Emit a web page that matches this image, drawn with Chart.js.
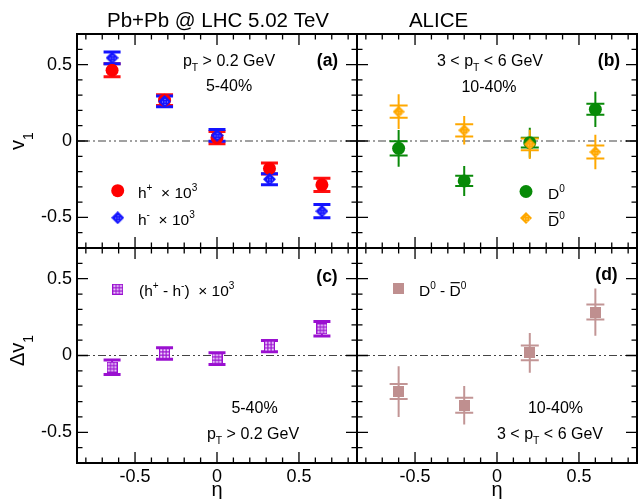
<!DOCTYPE html>
<html>
<head>
<meta charset="utf-8">
<script src="https://cdn.jsdelivr.net/npm/chart.js@4.4.0/dist/chart.umd.min.js"></script>
<style>
  html, body { margin: 0; padding: 0; background: #fff; }
  #wrap { position: relative; width: 638px; height: 499px; }
  #wrap canvas { position: absolute; left: 0; top: 0; }
</style>
</head>
<body>
<div id="wrap">
  <canvas id="pa" width="638" height="499"></canvas>
  <canvas id="pb" width="638" height="499"></canvas>
  <canvas id="pc" width="638" height="499"></canvas>
  <canvas id="pd" width="638" height="499"></canvas>
</div>
<script>
// eta positions
const etaH = [-0.64, -0.32, 0, 0.32, 0.64];
const etaD = [-0.6, -0.2, 0.2, 0.6];

// (a) charged hadrons, v1 x 10^3
const v1HPlus = [0.463, 0.267, 0.022, -0.180, -0.287];
const errHPlus = [0.043, 0.035, 0.040, 0.036, 0.043];
const v1HMinus = [0.544, 0.259, 0.037, -0.250, -0.459];
const errHMinus = [0.039, 0.035, 0.038, 0.036, 0.043];

// (b) D mesons
const v1D0 = [-0.048, -0.261, -0.011, 0.207];
const statD0 = [0.120, 0.098, 0.098, 0.116];
const systD0 = [0.047, 0.033, 0.032, 0.036];
const v1D0bar = [0.192, 0.070, -0.022, -0.072];
const statD0bar = [0.114, 0.093, 0.095, 0.113];
const systD0bar = [0.040, 0.040, 0.038, 0.043];

// (c) h+ - h-
const dv1H = [-0.076, 0.013, -0.020, 0.061, 0.174];
const errDv1H = [0.047, 0.037, 0.038, 0.037, 0.047];

// (d) D0 - D0bar
const dv1D = [-0.235, -0.324, 0.017, 0.283];
const statDv1D = [0.165, 0.125, 0.130, 0.154];
const systDv1D = [0.049, 0.049, 0.048, 0.049];

const xTicks = [-0.5, 0, 0.5];
const yTicks = [-0.5, 0, 0.5];

const FONT = "'Liberation Sans', Arial, Helvetica, sans-serif";
const W = 638, H = 499;
const L = 77, M = 357, R = 637, T = 34, MID = 248, B = 463;

function marker(size, paint) {
  const c = document.createElement('canvas');
  c.width = size; c.height = size;
  paint(c.getContext('2d'), size);
  return c;
}
function dottedDiamond(size, fill, dot) {
  return marker(size, (g, s) => {
    g.beginPath();
    g.moveTo(s / 2, 0); g.lineTo(s, s / 2); g.lineTo(s / 2, s); g.lineTo(0, s / 2);
    g.closePath();
    g.fillStyle = fill; g.fill();
    g.fillStyle = dot;
    for (let i = 1.5; i < s; i += 2.5)
      for (let j = 1.5; j < s; j += 2.5)
        if (Math.abs(i - s / 2) + Math.abs(j - s / 2) < s / 2 - 2) g.fillRect(i, j, 1, 1);
  });
}
const blueDiamond = dottedDiamond(13, '#1414ff', '#a8a8ff');
const orangeDiamond = dottedDiamond(12, '#ffa800', '#ffd78a');
const purpleSquare = marker(11, (g, s) => {
  g.fillStyle = '#f3ddff'; g.fillRect(0, 0, s, s);
  g.strokeStyle = '#9a10d0'; g.lineWidth = 1.2;
  g.beginPath();
  [0.6, 3.9, 7.1, 10.4].forEach(p => { g.moveTo(p, 0); g.lineTo(p, s); g.moveTo(0, p); g.lineTo(s, p); });
  g.stroke();
});
const rosySquare = marker(11, (g, s) => { g.fillStyle = '#bf8f8f'; g.fillRect(0, 0, s, s); });

// text with sub/superscripts and overline
function rich(ctx, parts, x, y, size, align, bold) {
  const f = s => (bold ? 'bold ' : '') + s + 'px ' + FONT;
  let w = 0;
  const items = parts.map(p => {
    const [t, m] = Array.isArray(p) ? p : [p, ''];
    const s = (m === 'sup' || m === 'sub') ? size * 0.65 : size;
    ctx.font = f(s);
    const it = { t, m, s, x: w, w: ctx.measureText(t).width };
    w += it.w;
    return it;
  });
  const x0 = align === 'center' ? x - w / 2 : align === 'right' ? x - w : x;
  ctx.textAlign = 'left';
  ctx.textBaseline = 'alphabetic';
  ctx.fillStyle = '#000';
  items.forEach(it => {
    ctx.font = f(it.s);
    let dy = 0;
    if (it.m === 'sup') dy = -size * 0.45;
    if (it.m === 'sub') dy = size * 0.32;
    ctx.fillText(it.t, x0 + it.x, y + dy);
    if (it.m === 'bar') {
      ctx.save();
      ctx.strokeStyle = '#000'; ctx.lineWidth = 1.2;
      ctx.beginPath();
      ctx.moveTo(x0 + it.x + 1, y - size * 0.86);
      ctx.lineTo(x0 + it.x + it.w - 1, y - size * 0.86);
      ctx.stroke();
      ctx.restore();
    }
  });
}

function drawMarker(ctx, ds, x, y) {
  if (ds.pointStyle === 'circle') {
    ctx.fillStyle = ds.backgroundColor;
    ctx.beginPath(); ctx.arc(x, y, ds.pointRadius, 0, Math.PI * 2); ctx.fill();
  } else {
    const im = ds.pointStyle;
    ctx.drawImage(im, x - im.width / 2, y - im.height / 2);
  }
}

const panelPlugin = {
  id: 'panel',
  beforeDatasetsDraw(chart) {
    const { ctx, chartArea: a, scales: { y } } = chart;
    ctx.save();
    // zero line
    ctx.strokeStyle = '#444';
    ctx.lineWidth = 1.2;
    ctx.setLineDash([8, 3, 2, 3, 2, 3]);
    const y0 = y.getPixelForValue(0);
    ctx.beginPath(); ctx.moveTo(a.left, y0); ctx.lineTo(a.right, y0); ctx.stroke();
    ctx.setLineDash([]);
    // error bars
    chart.data.datasets.forEach((ds, di) => {
      const meta = chart.getDatasetMeta(di);
      meta.data.forEach((pt, i) => {
        const v = ds.data[i].y;
        ctx.strokeStyle = ds.barColor;
        if (ds.err) {
          const yt = y.getPixelForValue(v + ds.err[i]), yb = y.getPixelForValue(v - ds.err[i]);
          ctx.lineWidth = 2;
          ctx.beginPath(); ctx.moveTo(pt.x, yt); ctx.lineTo(pt.x, yb); ctx.stroke();
          ctx.lineWidth = 3;
          ctx.beginPath();
          ctx.moveTo(pt.x - 8.5, yt); ctx.lineTo(pt.x + 8.5, yt);
          ctx.moveTo(pt.x - 8.5, yb); ctx.lineTo(pt.x + 8.5, yb);
          ctx.stroke();
        } else {
          const yt = y.getPixelForValue(v + ds.stat[i]), yb = y.getPixelForValue(v - ds.stat[i]);
          const st = y.getPixelForValue(v + ds.syst[i]), sb = y.getPixelForValue(v - ds.syst[i]);
          ctx.lineWidth = 2;
          ctx.beginPath();
          ctx.moveTo(pt.x, yt); ctx.lineTo(pt.x, yb);
          ctx.moveTo(pt.x - 9, st); ctx.lineTo(pt.x + 9, st);
          ctx.moveTo(pt.x - 9, sb); ctx.lineTo(pt.x + 9, sb);
          ctx.stroke();
        }
      });
    });
    ctx.restore();
  },
  afterDraw(chart, args, opts) {
    const { ctx, chartArea: a, scales: { x, y } } = chart;
    ctx.save();
    // inward ticks on all four sides
    ctx.strokeStyle = '#000';
    ctx.lineWidth = 1.3;
    ctx.beginPath();
    for (let k = -8; k <= 8; k++) {
      const px = x.getPixelForValue(k / 10), len = k % 5 === 0 ? 11 : 5.5;
      ctx.moveTo(px, a.bottom); ctx.lineTo(px, a.bottom - len);
      ctx.moveTo(px, a.top); ctx.lineTo(px, a.top + len);
    }
    for (let k = -6; k <= 6; k++) {
      const py = y.getPixelForValue(k / 10), len = k % 5 === 0 ? 11 : 5.5;
      ctx.moveTo(a.left, py); ctx.lineTo(a.left + len, py);
      ctx.moveTo(a.right, py); ctx.lineTo(a.right - len, py);
    }
    ctx.stroke();
    ctx.lineWidth = 2;
    ctx.strokeRect(a.left, a.top, a.right - a.left, a.bottom - a.top);
    // axis titles
    if (opts.yTitle) {
      ctx.save();
      ctx.translate(23.5, y.getPixelForValue(0) + opts.yTitleShift);
      ctx.rotate(-Math.PI / 2);
      ctx.fillStyle = '#000';
      ctx.font = '20px ' + FONT;
      const main = opts.yTitle;
      const mw = ctx.measureText(main).width;
      ctx.font = '14px ' + FONT;
      const sw = ctx.measureText('1').width;
      const x0 = -(mw + sw) / 2;
      ctx.font = '20px ' + FONT;
      ctx.textAlign = 'left'; ctx.textBaseline = 'alphabetic';
      ctx.fillText(main, x0, 0);
      ctx.font = '14px ' + FONT;
      ctx.fillText('1', x0 + mw, 9);
      ctx.restore();
    }
    if (opts.xTitle) {
      ctx.fillStyle = '#000';
      ctx.font = '20px ' + FONT;
      ctx.textAlign = 'center'; ctx.textBaseline = 'alphabetic';
      ctx.fillText('η', x.getPixelForValue(0), 496);
    }
    // legend entries
    (opts.legend || []).forEach(e => {
      drawMarker(ctx, chart.data.datasets[e.ds], e.mx, e.my);
      rich(ctx, e.text, e.tx, e.ty, 15.5, 'left');
    });
    // labels
    (opts.texts || []).forEach(t => rich(ctx, t.parts, t.x, t.y, t.size || 16, 'center', t.bold));
    ctx.restore();
  }
};

function makePanel(id, datasets, rect, showX, showY, opts) {
  const [l, t, r, b] = rect;
  return new Chart(document.getElementById(id), {
    type: 'scatter',
    data: { datasets },
    options: {
      responsive: false,
      animation: false,
      events: [],
      layout: {
        autoPadding: false,
        padding: { left: showY ? 0 : l, top: t, right: W - r, bottom: showX ? 0 : H - b }
      },
      plugins: { legend: { display: false }, tooltip: { enabled: false }, panel: opts },
      scales: {
        x: {
          type: 'linear', min: -0.854, max: 0.854, display: showX,
          grid: { display: false, drawTicks: false }, border: { display: false },
          ticks: { color: '#000', font: { family: FONT, size: 18 }, padding: 3, maxRotation: 0 },
          afterBuildTicks: s => { s.ticks = xTicks.map(v => ({ value: v })); },
          afterFit: showX ? s => { s.height = H - b; } : undefined
        },
        y: {
          type: 'linear', min: -0.7, max: 0.7, display: showY,
          grid: { display: false, drawTicks: false }, border: { display: false },
          ticks: { color: '#000', font: { family: FONT, size: 18 }, padding: 5 },
          afterBuildTicks: s => { s.ticks = yTicks.map(v => ({ value: v })); },
          afterFit: showY ? s => { s.width = l; } : undefined
        }
      }
    },
    plugins: [panelPlugin]
  });
}

const pts = (xs, ys) => xs.map((x, i) => ({ x, y: ys[i] }));

// (a)
makePanel('pa', [
  { data: pts(etaH, v1HPlus), err: errHPlus, barColor: '#ff1010', pointStyle: 'circle',
    pointRadius: 6.5, backgroundColor: '#ff0000', borderWidth: 0, order: 1 },
  { data: pts(etaH, v1HMinus), err: errHMinus, barColor: '#1414ff', pointStyle: blueDiamond,
    pointRadius: 6.5, borderWidth: 0, order: 0 }
], [L, T, M, MID], false, true, {
  yTitle: 'v', yTitleShift: 0,
  legend: [
    { ds: 0, mx: 117.7, my: 190.7, tx: 138, ty: 198, text: ['h', ['+', 'sup'], '  × 10', ['3', 'sup']] },
    { ds: 1, mx: 117.7, my: 217.7, tx: 138, ty: 225, text: ['h', ['-', 'sup'], '  × 10', ['3', 'sup']] }
  ],
  texts: [
    { parts: ['Pb+Pb @ LHC 5.02 TeV'], x: 218, y: 27, size: 20.5 },
    { parts: ['ALICE'], x: 438.5, y: 27, size: 20.5 },
    { parts: ['p', ['T', 'sub'], ' > 0.2 GeV'], x: 229, y: 66 },
    { parts: ['5-40%'], x: 229, y: 91 },
    { parts: ['(a)'], x: 327.5, y: 66, size: 17.5, bold: true }
  ]
});

// (b)
makePanel('pb', [
  { data: pts(etaD, v1D0), stat: statD0, syst: systD0, barColor: '#0a8a0a', pointStyle: 'circle',
    pointRadius: 6.5, backgroundColor: '#078a07', borderWidth: 0, order: 1 },
  { data: pts(etaD, v1D0bar), stat: statD0bar, syst: systD0bar, barColor: '#ffa800', pointStyle: orangeDiamond,
    pointRadius: 6, borderWidth: 0, order: 0 }
], [M, T, R, MID], false, false, {
  legend: [
    { ds: 0, mx: 526, my: 191.5, tx: 548, ty: 199, text: ['D', ['0', 'sup']] },
    { ds: 1, mx: 526, my: 218, tx: 548, ty: 226, text: [['D', 'bar'], ['0', 'sup']] }
  ],
  texts: [
    { parts: ['3 < p', ['T', 'sub'], ' < 6 GeV'], x: 490, y: 66 },
    { parts: ['10-40%'], x: 489, y: 91.5 },
    { parts: ['(b)'], x: 609, y: 66, size: 17.5, bold: true }
  ]
});

// (c)
makePanel('pc', [
  { data: pts(etaH, dv1H), err: errDv1H, barColor: '#9a10d0', pointStyle: purpleSquare,
    pointRadius: 6, borderWidth: 0 }
], [L, MID, M, B], true, true, {
  yTitle: 'Δv', yTitleShift: -5, xTitle: true,
  legend: [
    { ds: 0, mx: 117.7, my: 289.3, tx: 139, ty: 296, text: ['(h', ['+', 'sup'], ' - h', ['-', 'sup'], ')  × 10', ['3', 'sup']] }
  ],
  texts: [
    { parts: ['(c)'], x: 327, y: 282, size: 17.5, bold: true },
    { parts: ['5-40%'], x: 254.5, y: 412.5 },
    { parts: ['p', ['T', 'sub'], ' > 0.2 GeV'], x: 253, y: 439 }
  ]
});

// (d)
makePanel('pd', [
  { data: pts(etaD, dv1D), stat: statDv1D, syst: systDv1D, barColor: '#c29595', pointStyle: rosySquare,
    pointRadius: 6, borderWidth: 0 }
], [M, MID, R, B], true, false, {
  xTitle: true,
  legend: [
    { ds: 0, mx: 398.3, my: 288.3, tx: 419, ty: 296, text: ['D', ['0', 'sup'], ' - ', ['D', 'bar'], ['0', 'sup']] }
  ],
  texts: [
    { parts: ['(d)'], x: 606.5, y: 280, size: 17.5, bold: true },
    { parts: ['10-40%'], x: 555.5, y: 412.5 },
    { parts: ['3 < p', ['T', 'sub'], ' < 6 GeV'], x: 550, y: 438.5 }
  ]
});
</script>
</body>
</html>
